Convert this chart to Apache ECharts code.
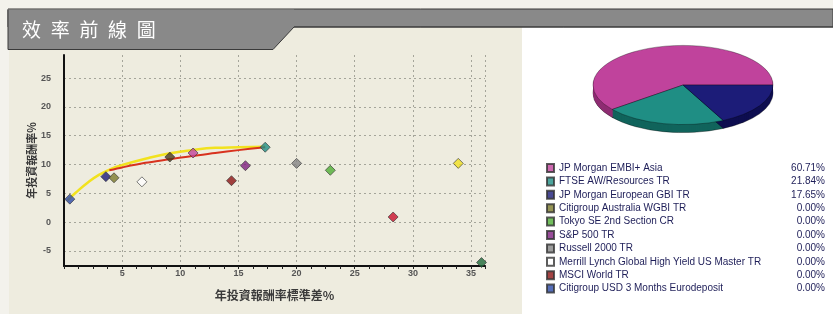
<!DOCTYPE html>
<html>
<head>
<meta charset="utf-8">
<script src="https://cdn.jsdelivr.net/npm/echarts@6/dist/echarts.min.js"></script>
<style>
  html, body { margin: 0; padding: 0; background: #f3f2ec; }
  #chart { width: 833px; height: 314px; }
</style>
</head>
<body>
<div id="chart"></div>
<script>
// ---- data ----
var titleText = '效率前線圖';
var xName = '年投資報酬率標準差%';
var yName = '年投資報酬率%';

var assetNames = [
  'JP Morgan EMBI+ Asia',
  'FTSE AW/Resources TR',
  'JP Morgan European GBI TR',
  'Citigroup Australia WGBI TR',
  'Tokyo SE 2nd Section CR',
  'S&P 500 TR',
  'Russell 2000 TR',
  'Merrill Lynch Global High Yield US Master TR',
  'MSCI World TR',
  'Citigroup USD 3 Months Eurodeposit'
];
var assetWeights = [60.71, 21.84, 17.65, 0, 0, 0, 0, 0, 0, 0];
var assetStd = [11.1, 17.3, 3.6, 4.3, 22.9, 15.6, 20.0, 6.7, 14.4, 0.5];
var assetReturn = [12.0, 13.0, 7.9, 7.7, 9.0, 9.8, 10.2, 7.0, 7.2, 4.0];

// other points in the chart (not in the legend)
var otherStd = [9.1, 28.3, 33.9, 35.9];
var otherReturn = [11.3, 0.9, 10.2, -7.0];

// efficient frontier curves
var yellowStd = [0.3, 1.0, 2.0, 3.0, 4.0, 5.0, 7.0, 9.0, 11.0, 13.0, 15.0, 17.3];
var yellowReturn = [3.8, 5.1, 6.8, 8.2, 9.2, 9.9, 11.0, 11.9, 12.5, 12.9, 13.0, 13.1];
var redStd = [3.9, 5.0, 7.0, 9.0, 11.0, 13.0, 15.0, 17.3];
var redReturn = [9.0, 9.5, 10.3, 10.9, 11.5, 12.0, 12.5, 13.0];

var yTicks = [-5, 0, 5, 10, 15, 20, 25];

// ---- styles ----
var assetColors = ['#c0439c', '#1f8e84', '#1c1c78', '#7c7a2c', '#4fae34',
                   '#7e1f80', '#858585', '#ffffff', '#8c1414', '#2c4aa8'];
var otherColors = ['#4a3a1c', '#c8102c', '#f0e020', '#1f6a3a'];
var pieSide = ['#8e2c72', '#11645c', '#0e0e50'];

var pie = { cx: 683, cy: 85, r: 90, ratio: 0.44, depth: 8 };

var chart = echarts.init(document.getElementById('chart'));

var scatterSeries = assetNames.map(function (name, i) {
  return {
    name: name,
    type: 'scatter',
    symbol: 'diamond',
    symbolSize: 10,
    z: 5,
    itemStyle: { color: assetColors[i], borderColor: '#333', borderWidth: 0.8 },
    data: [[assetStd[i], assetReturn[i]]]
  };
});

var pieData = assetWeights.filter(function (w) { return w > 0; });
var pieTotal = pieData.reduce(function (a, b) { return a + b; }, 0);

// slices go clockwise on screen from 3 o'clock
function renderSlice(params, api) {
  var i = params.dataIndex;
  var before = 0;
  for (var k = 0; k < i; k++) before += pieData[k];
  var a0 = -before / pieTotal * Math.PI * 2;
  var a1 = -(before + api.value(0)) / pieTotal * Math.PI * 2;
  var children = [];
  for (var d = pie.depth; d >= 1; d--) {
    children.push({
      type: 'group', x: pie.cx, y: pie.cy + d, scaleY: pie.ratio,
      children: [{
        type: 'sector', z2: 1,
        shape: { cx: 0, cy: 0, r: pie.r, startAngle: a0, endAngle: a1, clockwise: false },
        style: { fill: pieSide[i], stroke: d === pie.depth ? 'rgba(0,0,0,0.5)' : null, lineWidth: 1, strokeNoScale: true }
      }]
    });
  }
  children.push({
    type: 'group', x: pie.cx, y: pie.cy, scaleY: pie.ratio,
    children: [{
      type: 'sector', z2: 10,
      shape: { cx: 0, cy: 0, r: pie.r, startAngle: a0, endAngle: a1, clockwise: false },
      style: { fill: assetColors[i], stroke: 'rgba(0,0,0,0.45)', lineWidth: 1, strokeNoScale: true }
    }]
  });
  return { type: 'group', children: children };
}

var titleChars = titleText.split('').map(function (ch, i) {
  return {
    type: 'text', z: 20, x: 22 + i * 28.7, y: 30,
    style: { text: ch, fill: '#fff', font: '19px "Noto Sans CJK TC"', textVerticalAlign: 'middle' }
  };
});

var option = {
  backgroundColor: '#f3f2ec',
  animation: false,
  graphic: [
    { type: 'rect', z: -1, shape: { x: 9, y: 27, width: 514, height: 287 }, style: { fill: '#eeecdf' } },
    { type: 'rect', z: -1, shape: { x: 522, y: 27, width: 311, height: 287 }, style: { fill: '#ffffff' } },
    { type: 'rect', z: 15, shape: { x: 8, y: 9, width: 825, height: 18 }, style: { fill: '#898989', stroke: '#3a3a3a', lineWidth: 1 } },
    { type: 'polygon', z: 16, shape: { points: [[8, 9.5], [294, 9.5], [294, 27], [273, 49.5], [8, 49.5]] },
      style: { fill: '#898989' } },
    { type: 'polyline', z: 16, shape: { points: [[8, 10], [8, 49.5], [273, 49.5], [294, 27], [833, 27]] },
      style: { fill: null, stroke: '#3a3a3a', lineWidth: 1 } }
  ].concat(titleChars),
  legend: {
    data: assetNames,
    orient: 'vertical',
    left: 541,
    top: 158,
    itemWidth: 7,
    itemHeight: 8,
    itemGap: 3.4,
    icon: 'rect',
    selectedMode: false,
    formatter: function (name) {
      var i = assetNames.indexOf(name);
      return '{n|' + name + '}{p|' + assetWeights[i].toFixed(2) + '%}';
    },
    textStyle: {
      rich: {
        n: { width: 226, fontSize: 10, fontFamily: 'Liberation Sans', color: '#1e1e58', lineHeight: 8 },
        p: { width: 40, align: 'right', fontSize: 10, fontFamily: 'Liberation Sans', color: '#1e1e58', lineHeight: 8 }
      }
    }
  },
  grid: { left: 64, right: 348, top: 55, bottom: 48 },
  xAxis: {
    type: 'value',
    min: 0,
    max: 36.2,
    interval: 5,
    name: xName,
    nameLocation: 'middle',
    nameGap: 23,
    nameMoveOverlap: false,
    nameTextStyle: { fontSize: 12, fontWeight: 'bold', color: '#3a3a3a', fontFamily: 'Noto Sans CJK TC' },
    axisLine: { onZero: false, lineStyle: { color: '#111', width: 2 } },
    axisTick: { show: true, inside: false, length: 3, lineStyle: { color: '#222' } },
    minorTick: { show: true, splitNumber: 4, length: 3, lineStyle: { color: '#222' } },
    axisLabel: {
      margin: 3, fontSize: 9, fontWeight: 'bold', color: '#555',
      showMinLabel: false, showMaxLabel: false,
      formatter: function (v) { return (v > 0 && v % 5 === 0) ? v : ''; }
    },
    splitLine: { show: true, lineStyle: { color: '#a5a59a', type: [2, 3], width: 1 } }
  },
  yAxis: {
    type: 'value',
    min: -7.6,
    max: 29,
    name: yName,
    nameLocation: 'middle',
    nameGap: 27,
    nameMoveOverlap: false,
    nameTextStyle: { fontSize: 11, fontWeight: 'bold', color: '#3a3a3a', fontFamily: 'Noto Sans CJK TC' },
    axisLine: { show: true, onZero: false, lineStyle: { color: '#111', width: 2 } },
    axisTick: { show: false, customValues: yTicks },
    axisLabel: { customValues: yTicks, margin: 13, fontSize: 9, fontWeight: 'bold', color: '#555' },
    splitLine: { show: true, lineStyle: { color: '#a5a59a', type: [2, 3], width: 1 } }
  },
  series: scatterSeries.concat([
    {
      name: 'others',
      type: 'scatter',
      symbol: 'diamond',
      symbolSize: 10,
      z: 5,
      itemStyle: {
        color: function (p) { return otherColors[p.dataIndex]; },
        borderColor: '#333', borderWidth: 0.8
      },
      data: otherStd.map(function (x, i) { return [x, otherReturn[i]]; })
    },
    {
      name: 'frontier-yellow',
      type: 'line',
      smooth: true,
      showSymbol: false,
      z: 3,
      lineStyle: { color: '#f2e21e', width: 2.5 },
      data: yellowStd.map(function (x, i) { return [x, yellowReturn[i]]; })
    },
    {
      name: 'frontier-red',
      type: 'line',
      smooth: 0.3,
      showSymbol: false,
      z: 4,
      lineStyle: { color: '#d8321e', width: 2 },
      data: redStd.map(function (x, i) { return [x, redReturn[i]]; })
    },
    {
      name: 'pie3d',
      type: 'custom',
      coordinateSystem: 'none',
      renderItem: renderSlice,
      data: pieData.map(function (w) { return [w]; })
    }
  ])
};

chart.setOption(option);
</script>
</body>
</html>
